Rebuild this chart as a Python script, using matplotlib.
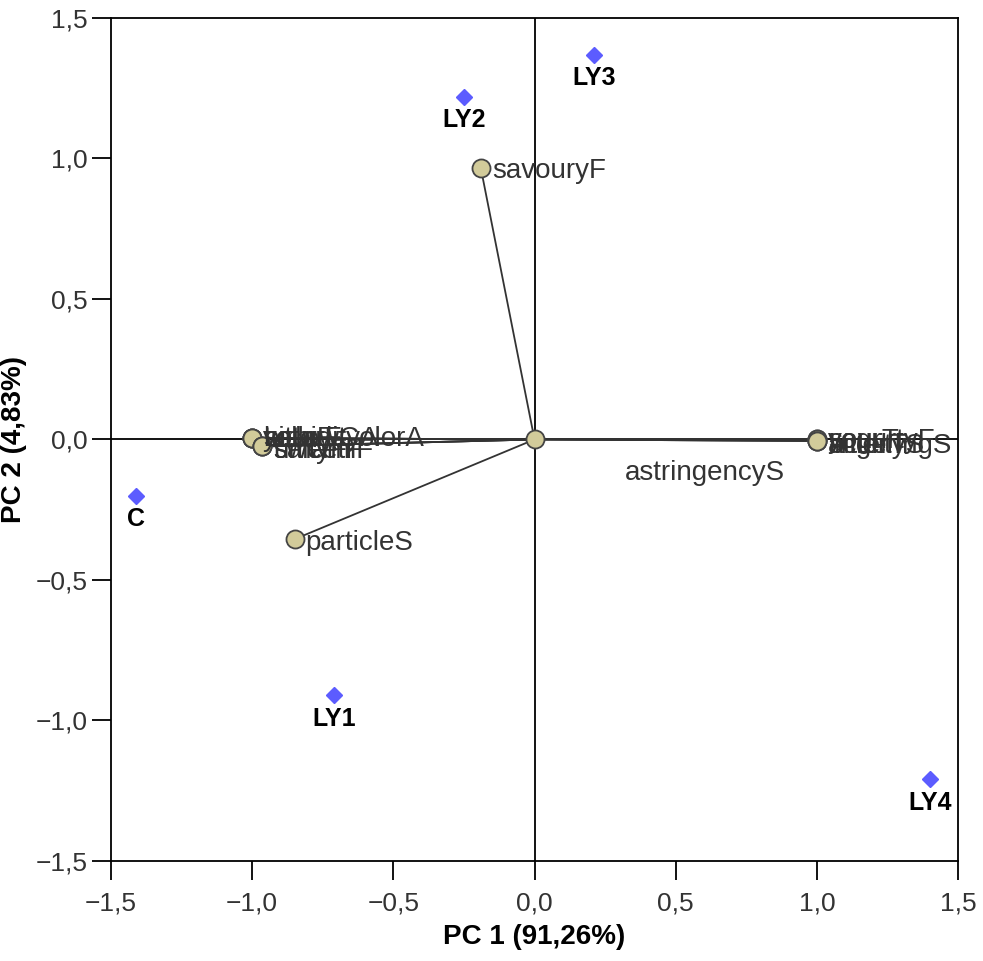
import matplotlib.pyplot as plt
from matplotlib.ticker import FuncFormatter

plt.rcParams['font.family'] = ['Liberation Sans', 'DejaVu Sans']

# sample scores
samples = ["C", "LY1", "LY2", "LY3", "LY4"]
sample_x = [-1.41, -0.71, -0.25, 0.21, 1.40]
sample_y = [-0.20, -0.91, 1.22, 1.37, -1.21]

# attribute loadings
attrs = ["savouryF", "particleS", "astringencyS",
         "bitterF", "turbidityA", "sourF", "yellowColorA",
         "sweetF", "saltyF", "umamiF",
         "sourT", "yogurtyF", "bitterT", "acidityS", "lingeringS"]
load_x = [-0.19, -0.85, 0.0,
          -1.0, -1.0, -1.0, -1.0,
          -0.965, -0.965, -0.965,
          1.0, 1.0, 1.0, 1.0, 1.0]
load_y = [0.965, -0.355, 0.0,
          0.005, 0.005, 0.005, 0.005,
          -0.025, -0.025, -0.025,
          0.0, 0.0, -0.005, -0.005, -0.005]
# label offsets (points) -- astringencyS label was pushed away from its point
label_dx = [8, 8, 65, 8, 8, 8, 8, 8, 8, 8, 8, 8, 8, 8, 8]
label_dy = [-2, -3, -24, -1, -1, -1, -1, -3, -3, -3, -1, -1, -4, -4, -4]

ticks = [-1.5, -1.0, -0.5, 0.0, 0.5, 1.0, 1.5]


def comma_fmt(v, pos):
    s = "%.1f" % v
    return s.replace("-", "\u2212").replace(".", ",")


fig = plt.figure(figsize=(9.83, 9.61), dpi=100)
ax = fig.add_axes([0.1129, 0.1041, 0.8617, 0.8772])

ax.axhline(0, color="black", lw=1.3, zorder=1)
ax.axvline(0, color="black", lw=1.3, zorder=1)

for x, y in zip(load_x, load_y):
    ax.plot([0, x], [0, y], color="#333333", lw=1.3, zorder=2)

ax.plot(load_x, load_y, "o", ms=13, mfc="#d2cb9a", mec="#444444",
        mew=1.3, ls="none", zorder=3)

for name, x, y, dx, dy in zip(attrs, load_x, load_y, label_dx, label_dy):
    ax.annotate(name, (x, y), xytext=(dx, dy), textcoords="offset points",
                ha="left", va="center", fontsize=20, color="#333333",
                zorder=4)

ax.plot(sample_x, sample_y, "D", ms=8, color="#5c5cff", ls="none", zorder=3)
for name, x, y in zip(samples, sample_x, sample_y):
    ax.annotate(name, (x, y), xytext=(0, -17), textcoords="offset points",
                ha="center", va="center", fontsize=18, fontweight="bold",
                color="black", zorder=4)

ax.set_xlim(-1.5, 1.5)
ax.set_ylim(-1.5, 1.5)
ax.set_xticks(ticks)
ax.set_yticks(ticks)
ax.xaxis.set_major_formatter(FuncFormatter(comma_fmt))
ax.yaxis.set_major_formatter(FuncFormatter(comma_fmt))
ax.tick_params(direction="out", length=14, width=1.3, labelsize=19,
               labelcolor="#333333")
ax.tick_params(axis="x", pad=8)
ax.tick_params(axis="y", pad=3)
for sp in ax.spines.values():
    sp.set_linewidth(1.3)

ax.set_xlabel("PC 1 (91,26%)", fontsize=20, fontweight="bold", labelpad=6)
ax.set_ylabel("PC 2 (4,83%)", fontsize=20, fontweight="bold", labelpad=6)

fig.savefig("out.png", dpi=100)
